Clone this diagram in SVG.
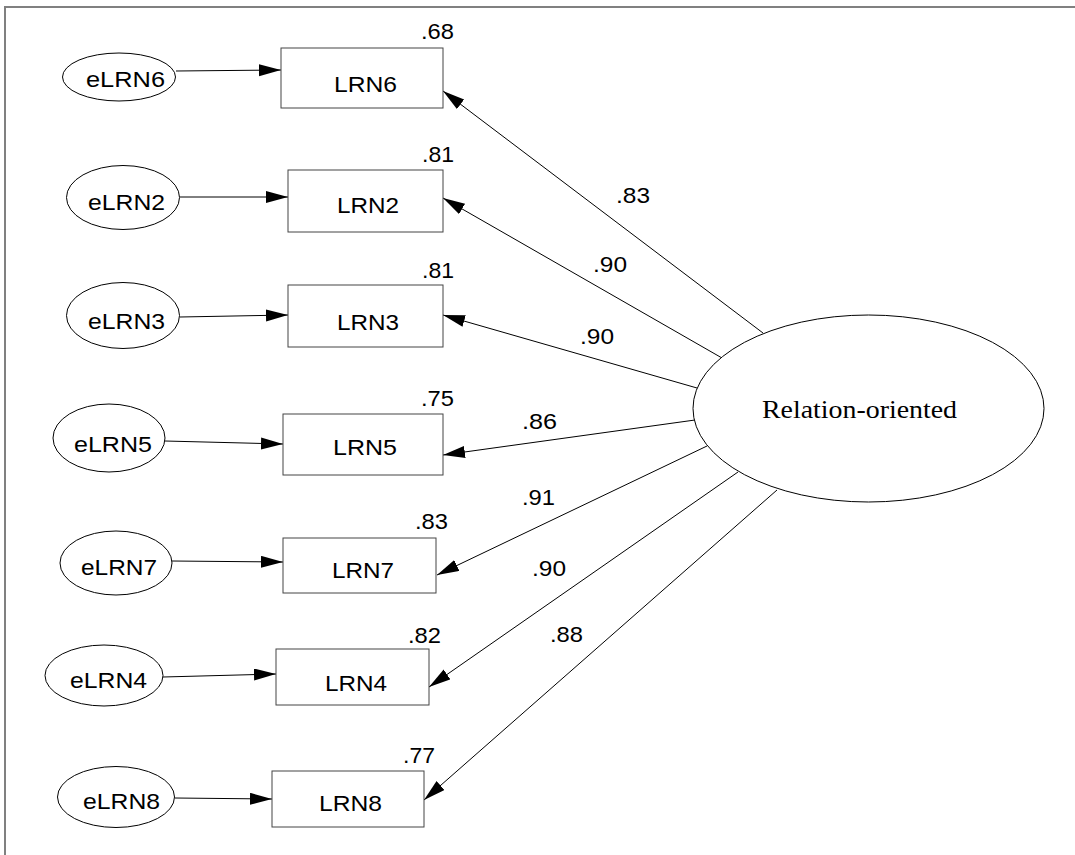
<svg xmlns="http://www.w3.org/2000/svg" width="1075" height="855" viewBox="0 0 1075 855">
  <style>
    .frame { fill: none; stroke: #808080; stroke-width: 2; }
    .box { fill: #fff; stroke: #444; stroke-width: 1; }
    .err { fill: #fff; stroke: #000; stroke-width: 1; }
    .lat { fill: #fff; stroke: #000; stroke-width: 1; }
    .path { fill: none; stroke: #000; stroke-width: 1; marker-end: url(#arrow); }
    .lbl { font-family: "Liberation Sans", Arial, sans-serif; font-size: 22px; fill: #000; }
    .latlbl { font-family: "Liberation Serif", "Times New Roman", serif; font-size: 26px; fill: #000; }
  </style>
  <defs>
    <marker id="arrow" markerUnits="userSpaceOnUse" markerWidth="24" markerHeight="14" refX="22" refY="6" orient="auto">
      <path d="M0,0 L22,6 L0,12 Z" fill="#000"/>
    </marker>
  </defs>

  <rect width="1075" height="855" fill="#fff"/>
  <!-- page frame (top and left edges) -->
  <path class="frame" d="M5,855 V7 H1075"/>

  <!-- connectors -->
  <g id="connectors">
    <!-- error terms to indicators -->
    <line class="path" x1="176" y1="71" x2="281" y2="70"/>
    <line class="path" x1="180" y1="197" x2="288" y2="197"/>
    <line class="path" x1="180" y1="317" x2="288" y2="315"/>
    <line class="path" x1="165" y1="441" x2="283" y2="444"/>
    <line class="path" x1="172" y1="561" x2="283" y2="562"/>
    <line class="path" x1="163" y1="677" x2="276" y2="674"/>
    <line class="path" x1="175" y1="798" x2="272" y2="799"/>
    <!-- factor loadings -->
    <line class="path" x1="763" y1="333" x2="443" y2="91"/>
    <line class="path" x1="722" y1="358" x2="443" y2="198"/>
    <line class="path" x1="697" y1="388" x2="443" y2="315"/>
    <line class="path" x1="695" y1="420" x2="443" y2="455"/>
    <line class="path" x1="707" y1="446" x2="437" y2="575"/>
    <line class="path" x1="738" y1="472" x2="429" y2="687"/>
    <line class="path" x1="777" y1="490" x2="424" y2="800"/>
    <!-- loading values -->
    <text class="lbl" x="616" y="203" textLength="34" lengthAdjust="spacingAndGlyphs">.83</text>
    <text class="lbl" x="593" y="272" textLength="34" lengthAdjust="spacingAndGlyphs">.90</text>
    <text class="lbl" x="580" y="344" textLength="34" lengthAdjust="spacingAndGlyphs">.90</text>
    <text class="lbl" x="522" y="429" textLength="35" lengthAdjust="spacingAndGlyphs">.86</text>
    <text class="lbl" x="522" y="505" textLength="33" lengthAdjust="spacingAndGlyphs">.91</text>
    <text class="lbl" x="532" y="576" textLength="34" lengthAdjust="spacingAndGlyphs">.90</text>
    <text class="lbl" x="550" y="642" textLength="33" lengthAdjust="spacingAndGlyphs">.88</text>
  </g>

  <!-- latent factor -->
  <g id="relation-oriented">
    <ellipse class="lat" cx="868.5" cy="408.5" rx="175.5" ry="93.5"/>
    <text class="latlbl" x="762" y="418" textLength="195" lengthAdjust="spacingAndGlyphs">Relation-oriented</text>
  </g>

  <!-- indicators -->
  <g id="LRN6">
    <rect class="box" x="281" y="48" width="162" height="60"/>
    <text class="lbl" x="334" y="92" textLength="63" lengthAdjust="spacingAndGlyphs">LRN6</text>
    <text class="lbl" x="421" y="39" textLength="33" lengthAdjust="spacingAndGlyphs">.68</text>
  </g>
  <g id="LRN2">
    <rect class="box" x="288" y="170" width="155" height="62"/>
    <text class="lbl" x="337" y="213" textLength="62" lengthAdjust="spacingAndGlyphs">LRN2</text>
    <text class="lbl" x="422" y="162" textLength="32" lengthAdjust="spacingAndGlyphs">.81</text>
  </g>
  <g id="LRN3">
    <rect class="box" x="288" y="285" width="155" height="62"/>
    <text class="lbl" x="337" y="330" textLength="62" lengthAdjust="spacingAndGlyphs">LRN3</text>
    <text class="lbl" x="422" y="278" textLength="32" lengthAdjust="spacingAndGlyphs">.81</text>
  </g>
  <g id="LRN5">
    <rect class="box" x="283" y="414" width="160" height="61"/>
    <text class="lbl" x="333" y="455" textLength="64" lengthAdjust="spacingAndGlyphs">LRN5</text>
    <text class="lbl" x="421" y="406" textLength="33" lengthAdjust="spacingAndGlyphs">.75</text>
  </g>
  <g id="LRN7">
    <rect class="box" x="283" y="538" width="153" height="55"/>
    <text class="lbl" x="332" y="578" textLength="62" lengthAdjust="spacingAndGlyphs">LRN7</text>
    <text class="lbl" x="415" y="529" textLength="33" lengthAdjust="spacingAndGlyphs">.83</text>
  </g>
  <g id="LRN4">
    <rect class="box" x="276" y="649" width="153" height="56"/>
    <text class="lbl" x="325" y="691" textLength="62" lengthAdjust="spacingAndGlyphs">LRN4</text>
    <text class="lbl" x="408" y="643" textLength="33" lengthAdjust="spacingAndGlyphs">.82</text>
  </g>
  <g id="LRN8">
    <rect class="box" x="272" y="771" width="152" height="56"/>
    <text class="lbl" x="319" y="811" textLength="63" lengthAdjust="spacingAndGlyphs">LRN8</text>
    <text class="lbl" x="403" y="763" textLength="32" lengthAdjust="spacingAndGlyphs">.77</text>
  </g>

  <!-- error terms -->
  <g id="eLRN6">
    <ellipse class="err" cx="119" cy="77" rx="56.5" ry="24"/>
    <text class="lbl" x="86" y="87" textLength="79" lengthAdjust="spacingAndGlyphs">eLRN6</text>
  </g>
  <g id="eLRN2">
    <ellipse class="err" cx="123" cy="197.5" rx="56.5" ry="32"/>
    <text class="lbl" x="88" y="210" textLength="77" lengthAdjust="spacingAndGlyphs">eLRN2</text>
  </g>
  <g id="eLRN3">
    <ellipse class="err" cx="123" cy="315.5" rx="56.5" ry="33"/>
    <text class="lbl" x="88" y="329" textLength="77" lengthAdjust="spacingAndGlyphs">eLRN3</text>
  </g>
  <g id="eLRN5">
    <ellipse class="err" cx="109" cy="438" rx="56" ry="34"/>
    <text class="lbl" x="74" y="452" textLength="78" lengthAdjust="spacingAndGlyphs">eLRN5</text>
  </g>
  <g id="eLRN7">
    <ellipse class="err" cx="116" cy="563" rx="56" ry="32"/>
    <text class="lbl" x="81" y="575" textLength="76" lengthAdjust="spacingAndGlyphs">eLRN7</text>
  </g>
  <g id="eLRN4">
    <ellipse class="err" cx="104" cy="675.5" rx="59" ry="30.5"/>
    <text class="lbl" x="70" y="688" textLength="77" lengthAdjust="spacingAndGlyphs">eLRN4</text>
  </g>
  <g id="eLRN8">
    <ellipse class="err" cx="116" cy="797" rx="58.5" ry="30.5"/>
    <text class="lbl" x="83" y="809" textLength="77" lengthAdjust="spacingAndGlyphs">eLRN8</text>
  </g>
</svg>
